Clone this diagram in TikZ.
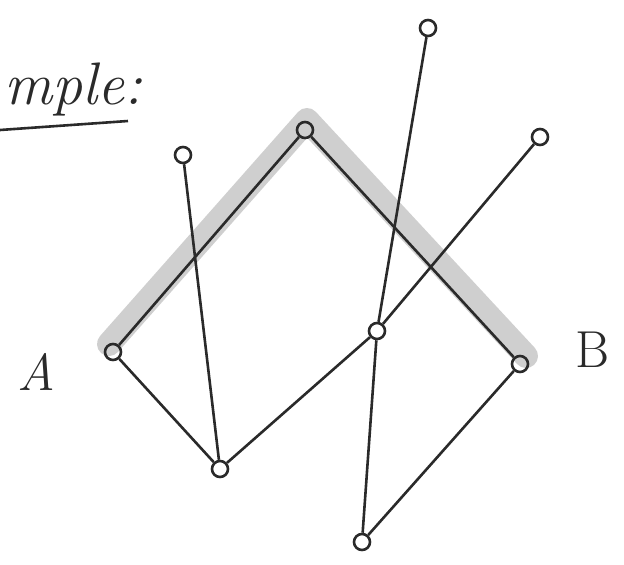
\documentclass[tikz,border=0pt]{standalone}
\usepackage{tikz}
\usetikzlibrary{calc,backgrounds}
\definecolor{pencil}{HTML}{2A2A2A}
\definecolor{shade}{HTML}{CFCFCF}

\begin{document}
\begin{tikzpicture}[
    x=1pt, y=-1pt,
    vtx/.style={draw=pencil, circle, line width=2.6pt, minimum size=16pt, inner sep=0pt},
    edge/.style={draw=pencil, line width=2.6pt},
    hilite/.style={draw=shade, line width=24pt, line cap=round, line join=round},
    lbl/.style={font=\fontsize{52}{52}\selectfont, text=pencil}
  ]
    \useasboundingbox (0,0) rectangle (624,565);
    % vertices
    \node[vtx] (a)   at (113,352) {};
    \node[vtx] (top) at (305,130) {};
    \node[vtx] (ul)  at (183,155) {};
    \node[vtx] (hi)  at (428,28)  {};
    \node[vtx] (ur)  at (540,137) {};
    \node[vtx] (mid) at (377,331) {};
    \node[vtx] (b)   at (520,364) {};
    \node[vtx] (bl)  at (220,469) {};
    \node[vtx] (bot) at (362,542) {};
    % highlighted path A -> B
    \begin{scope}[on background layer]
      \draw[hilite] ($(a)+(-4,-8)$) -- ($(top)+(2,-10)$) -- ($(b)+(6,-8)$);
    \end{scope}
    % edges
    \draw[edge] (a) -- (top);
    \draw[edge] (top) -- (b);
    \draw[edge] (ul) -- (bl);
    \draw[edge] (a) -- (bl);
    \draw[edge] (bl) -- (mid);
    \draw[edge] (mid) -- (ur);
    \draw[edge] (hi) -- (mid);
    \draw[edge] (mid) -- (bot);
    \draw[edge] (bot) -- (b);
    % labels
    \node[lbl] (la) at (36,372) {\itshape A};
    \node[lbl] (lb) at (592,350) {B};
    \node[lbl, font=\fontsize{60}{60}\selectfont, anchor=base west, inner sep=0pt] (title) at (4,104) {\itshape mple:};
    \coordinate (ulS) at (0,130);
    \coordinate (ulE) at (128,121);
    \draw[edge] (ulS) -- (ulE);
  \end{tikzpicture}
\end{document}
